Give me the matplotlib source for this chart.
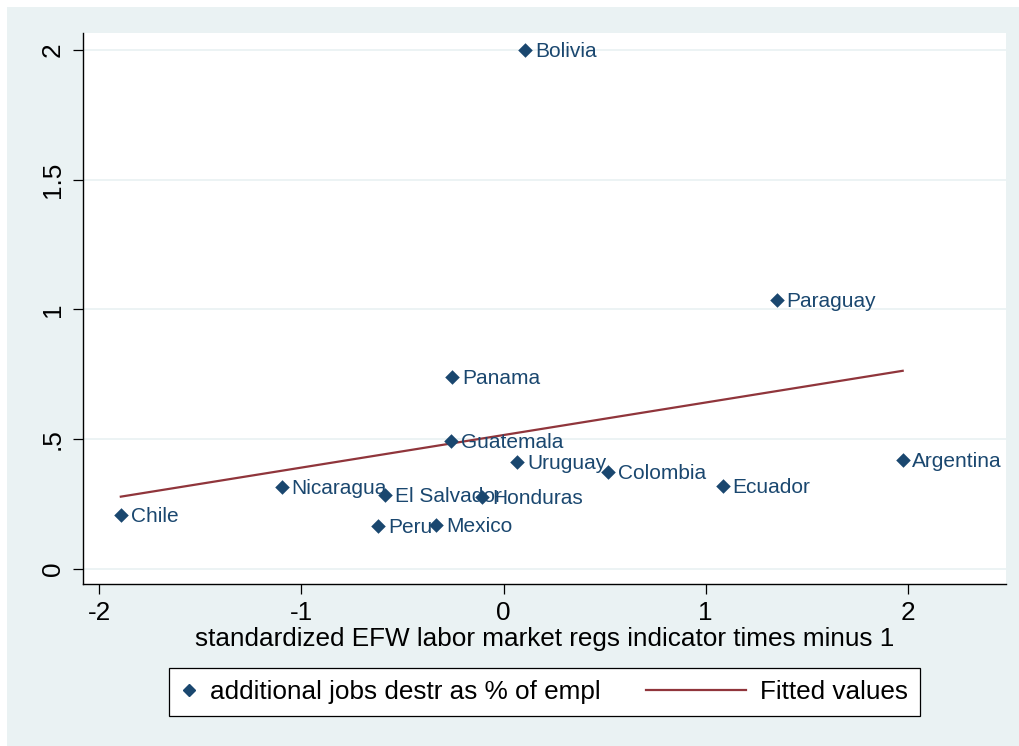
import numpy as np
import matplotlib
matplotlib.use("Agg")
import matplotlib.pyplot as plt
from matplotlib.patches import Rectangle
from matplotlib.lines import Line2D
from matplotlib.legend_handler import HandlerBase

plt.rcParams['font.family'] = ['Liberation Sans', 'DejaVu Sans']
plt.rcParams['axes.unicode_minus'] = False

countries = ["Bolivia", "Paraguay", "Panama", "Guatemala", "Uruguay", "Colombia",
             "Argentina", "Ecuador", "Nicaragua", "El Salvador", "Honduras",
             "Chile", "Peru", "Mexico"]
efw = [0.107, 1.352, -0.253, -0.258, 0.068, 0.517, 1.974, 1.085, -1.098,
       -0.584, -0.105, -1.893, -0.619, -0.332]
jobs = [2.0, 1.037, 0.740, 0.493, 0.412, 0.374, 0.420, 0.320, 0.316,
        0.285, 0.277, 0.208, 0.166, 0.170]
xticks = [-2, -1, 0, 1, 2]
yticks = [0, 0.5, 1, 1.5, 2]
yticklabels = ["0", ".5", "1", "1.5", "2"]

navy = "#1a476f"
maroon = "#90353b"
bg = "#eaf2f3"
FS = 18.8

W, H = 1019, 746
fig = plt.figure(figsize=(W / 100, H / 100), dpi=100)
fig.patch.set_facecolor("white")
fig.patches.append(Rectangle((7 / W, 0), 1 - 7 / W, 1 - 7 / H, transform=fig.transFigure,
                             facecolor=bg, edgecolor="none", zorder=-10))

ax = fig.add_axes([83 / W, 1 - 584 / H, (1006 - 83) / W, (584 - 33) / H])
ax.set_facecolor("white")
ax.set_xlim(-2.08, 2.485)
ax.set_ylim(-0.058, 2.065)
for s in ["top", "right"]:
    ax.spines[s].set_visible(False)
for s in ["left", "bottom"]:
    ax.spines[s].set_color("black")
    ax.spines[s].set_linewidth(1.0)

ax.set_yticks(yticks)
ax.set_yticklabels(yticklabels, rotation=90, va="center")
ax.set_xticks(xticks)
ax.tick_params(axis="both", direction="out", length=7, width=0.9, labelsize=FS, colors="black")
ax.tick_params(axis="y", pad=6)
ax.tick_params(axis="x", pad=5)
ax.yaxis.grid(True, color=bg, linewidth=1.3)
ax.set_axisbelow(True)

x = np.array(efw)
y = np.array(jobs)
b, a = np.polyfit(x, y, 1)
xs = np.array([x.min(), x.max()])
ax.plot(xs, a + b * xs, color=maroon, linewidth=1.6, zorder=2)
ax.scatter(x, y, marker="D", s=55, color=navy, zorder=3, linewidths=0)
for cx, cy, name in zip(x, y, countries):
    ax.annotate(name, (cx, cy), xytext=(7, -5.3), textcoords="offset points",
                va="baseline", ha="left", color=navy, fontsize=15, zorder=4)

ax.set_xlabel("standardized EFW labor market regs indicator times minus 1", fontsize=FS,
              labelpad=2)


class LongLineHandler(HandlerBase):
    def create_artists(self, legend, orig_handle, xdescent, ydescent, width, height,
                       fontsize, trans):
        L = 72.0
        yc = height / 2 - ydescent
        line = Line2D([width - xdescent - L, width - xdescent], [yc, yc],
                      color=orig_handle.get_color(), linewidth=orig_handle.get_linewidth())
        line.set_transform(trans)
        return [line]


h_marker = Line2D([], [], marker="D", markersize=6, color=navy, linestyle="none")
h_line = Line2D([], [], color=maroon, linewidth=1.6)
leg = ax.legend([h_marker, h_line],
                ["additional jobs destr as % of empl", "Fitted values"],
                handler_map={h_line: LongLineHandler()},
                loc="upper center", bbox_to_anchor=(0.5, (584 - 668) / 551), ncol=2,
                frameon=True, fancybox=False, fontsize=FS, edgecolor="black",
                handlelength=0.6, handletextpad=0.5, columnspacing=4.98,
                borderpad=0.46, borderaxespad=0, numpoints=1)
leg.get_frame().set_linewidth(0.9)
leg.get_frame().set_facecolor("white")
leg.get_frame().set_alpha(1)

fig.savefig("out.png", dpi=100, facecolor=fig.get_facecolor())
